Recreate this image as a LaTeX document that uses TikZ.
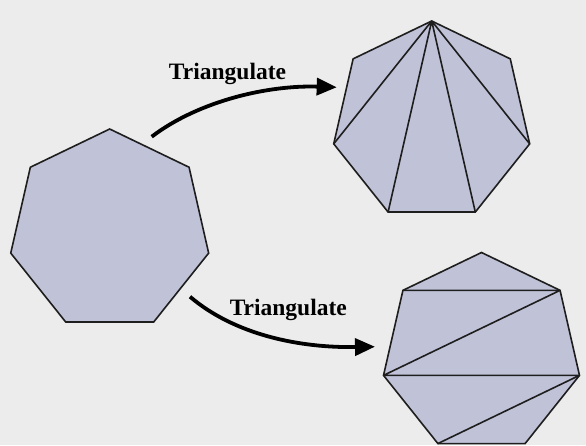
\documentclass[tikz,border=0pt]{standalone}
\usepackage{fontspec}
\setmainfont{Liberation Serif}
\usetikzlibrary{arrows.meta,calc}
\definecolor{bgcol}{RGB}{236,236,236}
\definecolor{polyfill}{RGB}{192,194,216}
\definecolor{edgecol}{RGB}{30,30,30}
\tikzset{
  poly/.style={fill=polyfill, draw=edgecol, line width=1.6pt, line join=miter},
  diag/.style={draw=edgecol, line width=1.6pt},
  bigarrow/.style={draw=black, line width=3.8pt, -{Triangle[length=20pt,width=17pt]}},
  lbl/.style={font=\bfseries\fontsize{23.5}{25}\selectfont, inner sep=0pt, anchor=base}
}
\begin{document}
\begin{tikzpicture}[x=1pt,y=-1pt]
\fill[bgcol] (0,0) rectangle (586,445);
\useasboundingbox (0,0) rectangle (586,445);
% vertex coordinates of the three heptagons
\foreach \k in {0,...,6}{
  \path (109.7,230.5) ++({-90+\k*360/7}:101.5) coordinate (L\k);
  \path (431.7,121.5) ++({-90+\k*360/7}:100.5) coordinate (T\k);
  \path (481.5,353) ++({-90+\k*360/7}:100.5) coordinate (B\k);
}
% left heptagon
\draw[poly] (L0)--(L1)--(L2)--(L3)--(L4)--(L5)--(L6)--cycle;
% top right: fan triangulation
\draw[poly] (T0)--(T1)--(T2)--(T3)--(T4)--(T5)--(T6)--cycle;
\draw[diag] (T0)--(T2) (T0)--(T3) (T0)--(T4) (T0)--(T5);
% bottom right: zigzag triangulation
\draw[poly] (B0)--(B1)--(B2)--(B3)--(B4)--(B5)--(B6)--cycle;
\draw[diag] (B6)--(B1) (B1)--(B5) (B5)--(B2) (B2)--(B4);
% arrows
\coordinate (a1s) at (151.7,136.7);
\coordinate (a1e) at (336.7,87.3);
\coordinate (a2s) at (190,296.7);
\coordinate (a2e) at (375,346.7);
\draw[bigarrow] (a1s) .. controls (200,100) and (270,85) .. (a1e);
\draw[bigarrow] (a2s) .. controls (235,335) and (300,348) .. (a2e);
% labels
\node[lbl] (lab1) at (227.5,79.3) {Triangulate};
\node[lbl] (lab2) at (288.3,315) {Triangulate};
\end{tikzpicture}
\end{document}
